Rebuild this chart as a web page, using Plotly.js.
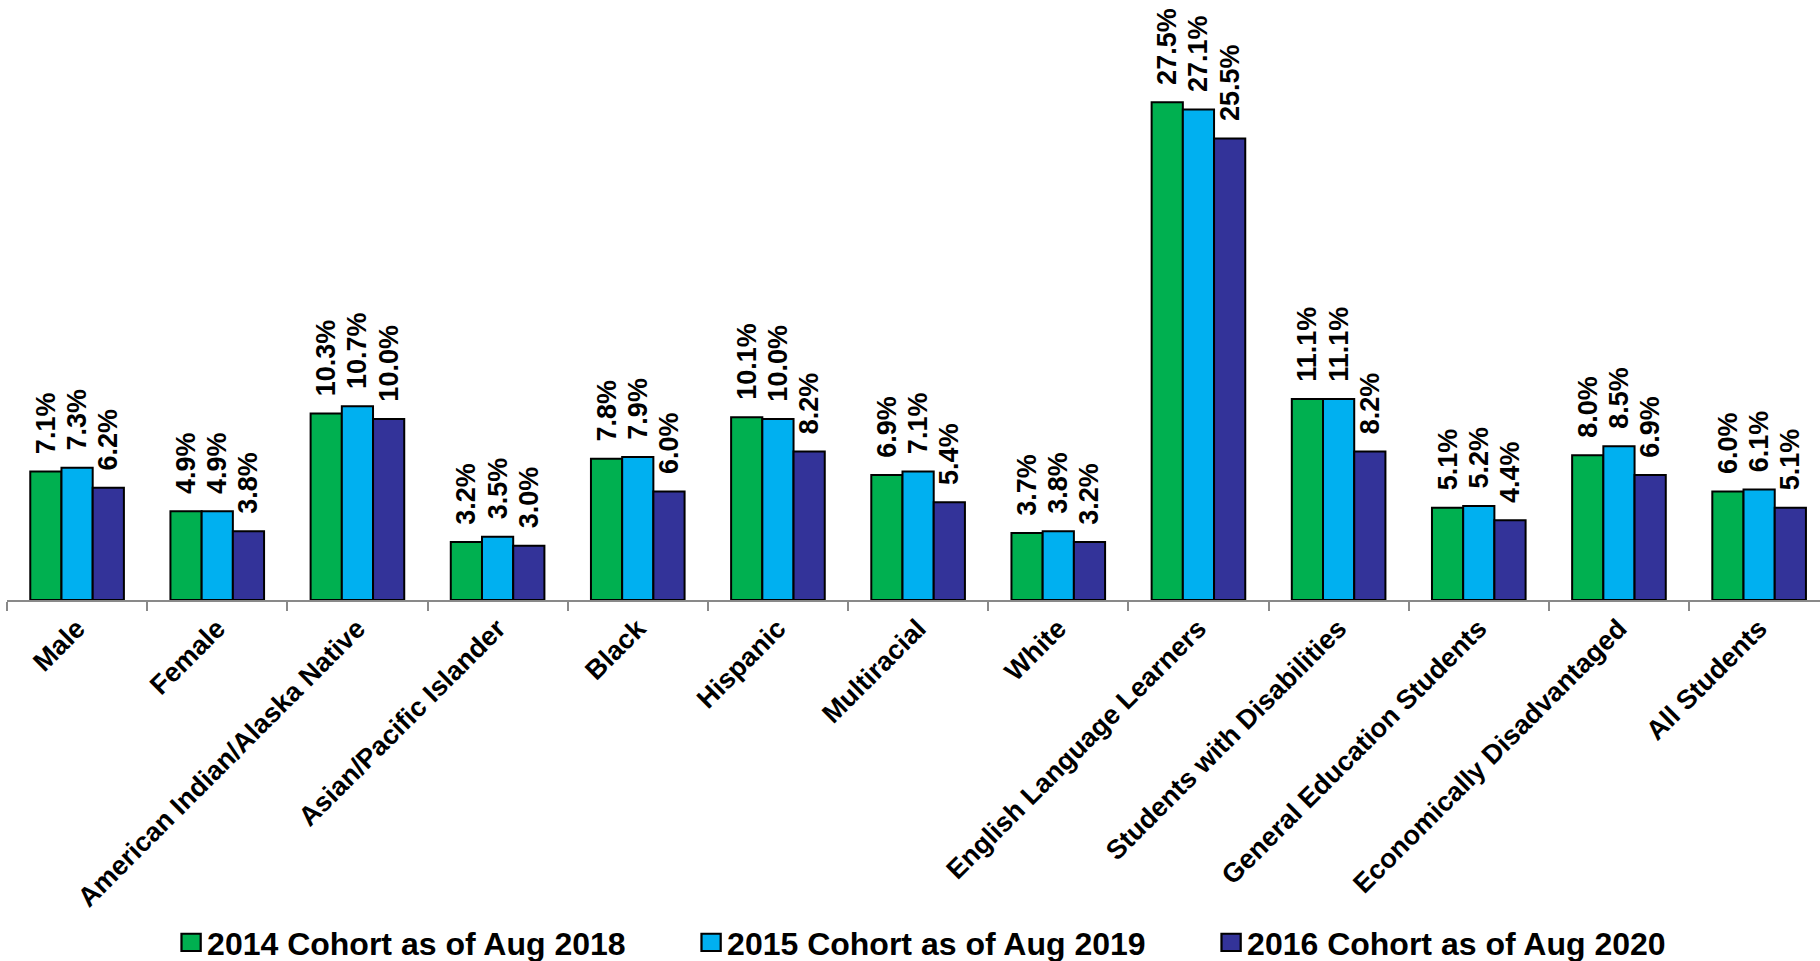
<!DOCTYPE html>
<html>
<head>
<meta charset="utf-8">
<script src="https://cdn.plot.ly/plotly-3.0.1.min.js"></script>
<style>html,body{margin:0;padding:0;background:#fff;}#chart{width:1820px;height:961px;}</style>
</head>
<body>
<div id="chart"></div>
<script>
const categories = ["Male", "Female", "American Indian/Alaska Native", "Asian/Pacific Islander", "Black", "Hispanic", "Multiracial", "White", "English Language Learners", "Students with Disabilities", "General Education Students", "Economically Disadvantaged", "All Students"];
const seriesNames = ["2014 Cohort as of Aug 2018", "2015 Cohort as of Aug 2019", "2016 Cohort as of Aug 2020"];
const cohort2014 = [7.1, 4.9, 10.3, 3.2, 7.8, 10.1, 6.9, 3.7, 27.5, 11.1, 5.1, 8.0, 6.0];
const cohort2015 = [7.3, 4.9, 10.7, 3.5, 7.9, 10.0, 7.1, 3.8, 27.1, 11.1, 5.2, 8.5, 6.1];
const cohort2016 = [6.2, 3.8, 10.0, 3.0, 6.0, 8.2, 5.4, 3.2, 25.5, 8.2, 4.4, 6.9, 5.1];
const seriesColors = ["#00B050", "#00B0F0", "#333399"];

const FONT = 'Arial, "Liberation Sans", sans-serif';
const allSeries = [cohort2014, cohort2015, cohort2016];

// invisible leading spacer: with the -90° rotation the start of the text sits next to the bar
const spacer = '<span style="color:rgba(0,0,0,0);font-size:24px">_</span>';

const traces = allSeries.map((vals, i) => ({
  type: 'bar',
  name: seriesNames[i],
  x: categories,
  y: vals,
  marker: {color: seriesColors[i], line: {color: '#000000', width: 2}},
  texttemplate: spacer + '%{y:.1f}%',
  textposition: 'outside',
  textangle: -90,
  constraintext: 'none',
  cliponaxis: false,
  textfont: {family: FONT, size: 27, color: '#000000', weight: 'bold'},
  hoverinfo: 'x+y+name'
}));

const plotW = 1813;
const catW = 140.17;

const layout = {
  width: 1820,
  height: 961,
  margin: {l: 7, r: 0, t: 0, b: 361, pad: 0, autoexpand: false},
  paper_bgcolor: '#ffffff',
  plot_bgcolor: '#ffffff',
  barmode: 'group',
  bargap: 0.332,
  bargroupgap: 0,
  font: {family: FONT, color: '#000000'},
  showlegend: true,
  legend: {
    orientation: 'h',
    x: 0.0883,
    xanchor: 'left',
    y: -0.571,
    yanchor: 'middle',
    entrywidth: 475,
    entrywidthmode: 'pixels',
    font: {family: FONT, size: 32, color: '#000000', weight: 'bold'},
    traceorder: 'normal'
  },
  xaxis: {
    type: 'category',
    range: [-0.5, -0.5 + plotW / catW],
    showline: true,
    linecolor: '#898989',
    linewidth: 2,
    ticks: 'outside',
    tickson: 'boundaries',
    ticklen: 9,
    tickwidth: 2,
    tickcolor: '#898989',
    tickangle: -45,
    tickfont: {family: FONT, size: 27, color: '#000000', weight: 'bold'},
    showgrid: false,
    zeroline: false,
    automargin: false,
    fixedrange: true
  },
  yaxis: {
    range: [0, 600 / 18.1],
    visible: false,
    showgrid: false,
    zeroline: false,
    automargin: false,
    fixedrange: true
  }
};

Plotly.newPlot('chart', traces, layout, {displayModeBar: false, staticPlot: true}).then(gd => {
  // enlarge the legend swatches and move them next to their labels, as in the reference
  gd.querySelectorAll('.legend .legendpoints path').forEach(p => {
    const t = p.getAttribute('transform') || '';
    p.setAttribute('transform', t + ' translate(4,0) scale(1.6,1.45)');
    p.style.strokeWidth = '1.4px';
  });
});
</script>
</body>
</html>
